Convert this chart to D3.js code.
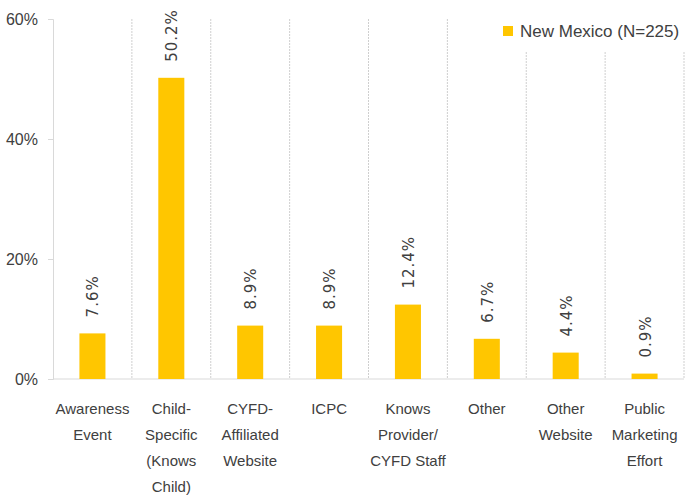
<!DOCTYPE html>
<html>
<head>
<meta charset="utf-8">
<script src="https://d3js.org/d3.v7.min.js"></script>
<style>
  body { margin: 0; background: #fff; }
  text { font-family: "Liberation Sans Narrow", "Liberation Sans", Arial, sans-serif; fill: #404040; }
  .val { font-family: "DejaVu Sans", sans-serif; font-size: 15px; letter-spacing: 1px; }
</style>
</head>
<body>
<div id="chart"></div>
<script>
// data
const categories = [
  ["Awareness", "Event"],
  ["Child-", "Specific", "(Knows", "Child)"],
  ["CYFD-", "Affiliated", "Website"],
  ["ICPC"],
  ["Knows", "Provider/", "CYFD Staff"],
  ["Other"],
  ["Other", "Website"],
  ["Public", "Marketing", "Effort"]
];
const values = [7.6, 50.2, 8.9, 8.9, 12.4, 6.7, 4.4, 0.9];
const yTicks = [0, 20, 40, 60];
const seriesName = "New Mexico (N=225)";

const W = 686, H = 497;
const mLeft = 53, mRight = 684, mTop = 19, mBottom = 379;
const names = categories.map(c => c.join(" "));

const svg = d3.select("#chart").append("svg")
  .attr("width", W).attr("height", H);

const x = d3.scaleBand()
  .domain(names)
  .range([mLeft, mRight])
  .paddingInner(0.67)
  .paddingOuter(0.335);

const y = d3.scaleLinear()
  .domain([0, 60])
  .range([mBottom, mTop]);

// vertical separators
const sep = names.map(n => x(n) + x.bandwidth() + x.step() * x.paddingInner() / 2);
svg.append("g").selectAll("line")
  .data(sep)
  .join("line")
  .attr("x1", d => d).attr("x2", d => d)
  .attr("y1", y(60)).attr("y2", y(0))
  .attr("stroke", "#cfcfcf")
  .attr("stroke-width", 1)
  .attr("stroke-dasharray", "2,1");

// y axis
const yAxis = svg.append("g")
  .attr("transform", `translate(${mLeft},0)`)
  .call(d3.axisLeft(y).tickValues(yTicks).tickSize(5).tickFormat(d => d + "%"));
yAxis.select(".domain").attr("stroke", "#d9d9d9");
yAxis.selectAll(".tick line").attr("stroke", "#d9d9d9");
yAxis.selectAll(".tick text").attr("font-size", 16).attr("x", -15).attr("fill", "#404040");

// x baseline
svg.append("line")
  .attr("x1", mLeft).attr("x2", mRight)
  .attr("y1", y(0)).attr("y2", y(0))
  .attr("stroke", "#d9d9d9");

// bars
svg.append("g").selectAll("rect")
  .data(values)
  .join("rect")
  .attr("x", (d, i) => x(names[i]))
  .attr("width", x.bandwidth())
  .attr("y", d => y(d))
  .attr("height", d => y(0) - y(d))
  .attr("fill", "#FFC600");

// value labels (rotated)
svg.append("g").selectAll("text")
  .data(values)
  .join("text")
  .attr("class", "val")
  .attr("transform", (d, i) => `translate(${x(names[i]) + x.bandwidth() / 2 + 6},${y(d) - 16}) rotate(-90)`)
  .attr("text-anchor", "start")
  .text(d => d.toFixed(1) + "%");

// category labels
const lab = svg.append("g").selectAll("text")
  .data(categories)
  .join("text")
  .attr("font-size", 15)
  .attr("text-anchor", "middle")
  .attr("y", 414);
lab.selectAll("tspan")
  .data((d, i) => d.map(t => ({ t, i })))
  .join("tspan")
  .attr("x", d => x(names[d.i]) + x.bandwidth() / 2)
  .attr("dy", (d, j) => j === 0 ? 0 : 26)
  .text(d => d.t);

// legend
svg.append("rect")
  .attr("x", 456).attr("y", mTop - 1).attr("width", W - 456).attr("height", 34)
  .attr("fill", "#fff");
svg.append("rect")
  .attr("x", 503).attr("y", 26).attr("width", 10).attr("height", 10)
  .attr("fill", "#FFC600");
svg.append("text")
  .attr("x", 520).attr("y", 37)
  .attr("font-size", 17)
  .text(seriesName);
</script>
</body>
</html>
